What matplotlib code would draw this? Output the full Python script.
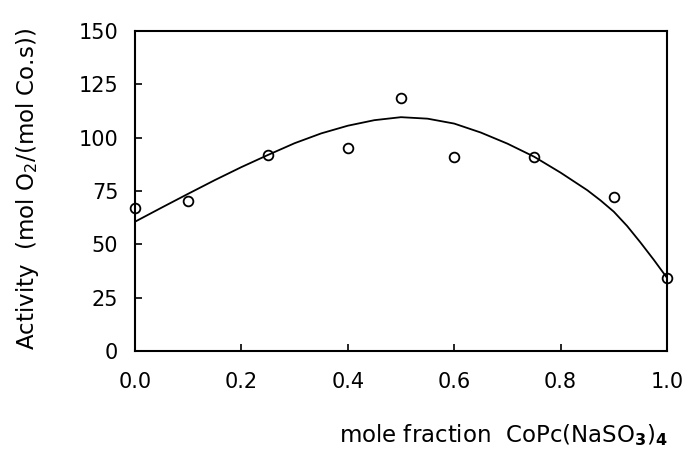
import numpy as np
import matplotlib
matplotlib.use('Agg')
from matplotlib import pyplot as plt

# datos medidos (circulos)
fraccion = [0.0, 0.1, 0.25, 0.4, 0.5, 0.6, 0.75, 0.9, 1.0]
actividad = [67.2, 70.5, 91.9, 95.0, 118.4, 91.1, 91.1, 72.0, 34.3]

# curva de ajuste
curva_x = [0.0, 0.05, 0.1, 0.15, 0.2, 0.25, 0.3, 0.35, 0.4, 0.45, 0.5,
           0.55, 0.6, 0.65, 0.7, 0.75, 0.8, 0.85, 0.875, 0.9, 0.925, 0.95,
           0.975, 1.0]
curva_y = [60.6, 67.2, 73.7, 80.1, 86.2, 91.9, 97.4, 102.0, 105.6, 108.2, 109.6,
           108.9, 106.6, 102.4, 97.2, 91.1, 83.6, 75.4, 70.6, 65.3, 58.6, 50.9,
           42.8, 34.3]

xticks = [0.0, 0.2, 0.4, 0.6, 0.8, 1.0]
yticks = [0, 25, 50, 75, 100, 125, 150]

plt.rcParams['font.family'] = ['DejaVu Sans']
plt.rcParams['mathtext.fontset'] = 'dejavusans'

fig = plt.figure(figsize=(6.87, 4.51), dpi=100)
ax = fig.add_axes([0.1965, 0.2217, 0.7744, 0.7096])

ax.plot(curva_x, curva_y, color='black', lw=1.3)
ax.plot(fraccion, actividad, linestyle='none', marker='o', markersize=7,
        markerfacecolor='none', markeredgecolor='black', markeredgewidth=1.3,
        clip_on=False, zorder=3)

ax.set_xlim(0, 1)
ax.set_ylim(0, 150)
ax.set_xticks(xticks)
ax.set_yticks(yticks)
ax.set_xticklabels(['%.1f' % v for v in xticks])
ax.tick_params(direction='in', length=5, width=1.2, labelsize=15,
               top=False, right=False)
ax.tick_params(axis='x', pad=15)
ax.tick_params(axis='y', pad=12)
for s in ax.spines.values():
    s.set_linewidth(1.5)

fig.text(0.04, 0.58, 'Activity  (mol O$_2$/(mol Co.s))', rotation=90,
         ha='center', va='center', fontsize=16.5)
fig.text(0.972, 0.035, 'mole fraction  CoPc(NaSO$_\\mathbf{3}$)$_\\mathbf{4}$',
         ha='right', va='center', fontsize=16.5)

fig.savefig('out.png', dpi=100)
